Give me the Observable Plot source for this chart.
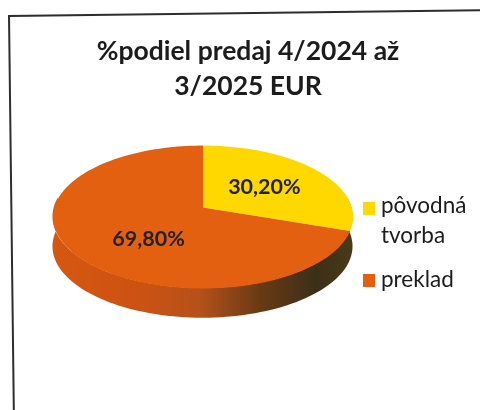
<!DOCTYPE html>
<html>
<head>
<meta charset="utf-8">
<script src="https://cdn.jsdelivr.net/npm/d3@7"></script>
<script src="https://cdn.jsdelivr.net/npm/@observablehq/plot@0.6"></script>
<style>
html,body{margin:0;padding:0;width:480px;height:410px;overflow:hidden;background:#fff;font-family:Lato,sans-serif;color:#1c1c1c}
#page{position:absolute;left:0;top:0;width:480px;height:410px;overflow:hidden;filter:blur(0.45px)}
#frame{position:absolute;left:8px;top:15px;width:490px;height:420px;border:2px solid #2e2e2e;transform:rotate(-0.7deg);transform-origin:0 0;box-sizing:border-box}
#chart{position:absolute;left:0;top:0}
#title{position:absolute;left:48px;top:33px;width:400px;text-align:center;font-weight:700;font-size:26.5px;line-height:35px}
.leg{position:absolute;font-size:22.5px;line-height:30px}
.sw{position:absolute;width:12px;height:13px}
</style>
</head>
<body>
<div id="page">
<div id="frame"></div>
<div id="chart"></div>
<div id="title">%podiel predaj 4/2024 až<br>3/2025 EUR</div>
<div class="sw" style="left:363px;top:202px;background:#ffd800"></div>
<div class="leg" style="left:381px;top:190px">pôvodná<br>tvorba</div>
<div class="sw" style="left:363px;top:274px;background:#e4600f"></div>
<div class="leg" style="left:381px;top:264px">preklad</div>
</div>
<script>
const categories = ["pôvodná tvorba", "preklad"];
const shares = [30.2, 69.8];
const shareLabels = ["30,20%", "69,80%"];
const colors = ["#ffd800", "#e2600f"];

const tilt = 0.472, persp = 0.133, depth = 0.2, step = 2;
const project = (deg) => {
  const a = deg * Math.PI / 180, u = Math.sin(a), v = Math.cos(a), w = 1 + persp * v;
  return {x: u / w, y: tilt * v / w};
};
const apex = {x: 0, y: 0};

let start = 0;
const slices = categories.map((c, i) => {
  const sweep = shares[i] * 3.6, s = {c, start, end: start + sweep, label: shareLabels[i]};
  start += sweep;
  return s;
});

const outline = slices.flatMap((s) => {
  const pts = [{...apex, c: s.c}];
  for (let d = s.start; d < s.end; d += step) pts.push({...project(d), c: s.c});
  pts.push({...project(s.end), c: s.c});
  return pts;
});

const wall = d3.range(82, 279, step).map((d) => {
  const p = project(d);
  return {x: p.x, y1: p.y, y2: p.y - depth};
});

const labels = slices.map((s) => {
  const mid = (s.start + s.end) / 2, a = mid * Math.PI / 180, r = 0.52;
  const u = r * Math.sin(a), v = r * Math.cos(a), w = 1 + persp * v;
  return {x: u / w, y: tilt * v / w, label: s.label, c: s.c};
});

const defs = () => {
  const ns = "http://www.w3.org/2000/svg";
  const d = document.createElementNS(ns, "defs");
  const g = document.createElementNS(ns, "linearGradient");
  g.setAttribute("id", "wall");
  [[0, "#d6570f"], [0.3, "#cc5212"], [0.49, "#b5511a"], [0.69, "#6a3a14"], [0.88, "#3b2f18"], [1, "#4a3a1a"]].forEach(([o, c]) => {
    const st = document.createElementNS(ns, "stop");
    st.setAttribute("offset", o);
    st.setAttribute("stop-color", c);
    g.appendChild(st);
  });
  d.appendChild(g);
  return d;
};

const plot = Plot.plot({
  width: 480,
  height: 410,
  margin: 0,
  style: {background: "transparent", fontFamily: "Lato, sans-serif"},
  x: {axis: null, domain: [-1, 1], range: [53.8, 351.2]},
  y: {axis: null, domain: [-1, 1], range: [355.7, 58.3]},
  color: {domain: categories, range: colors},
  marks: [
    defs,
    Plot.areaY(wall, {x: "x", y1: "y1", y2: "y2", fill: "url(#wall)"}),
    Plot.line(outline, {x: "x", y: "y", z: "c", fill: "c", stroke: "none"}),
    Plot.text(labels.slice(0, 1), {x: "x", y: "y", text: "label", fontSize: 21.5, fontWeight: 700, fill: "#222", dx: 1}),
    Plot.text(labels.slice(1), {x: "x", y: "y", text: "label", fontSize: 21.5, fontWeight: 700, fill: "#222", dx: 11, dy: 9})
  ]
});
document.getElementById("chart").appendChild(plot);
</script>
</body>
</html>
